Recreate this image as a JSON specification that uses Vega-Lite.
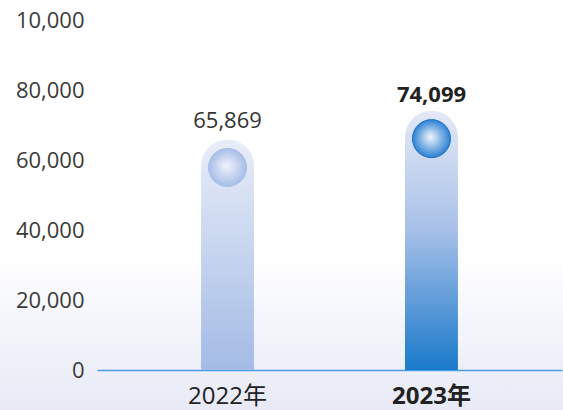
{
  "$schema": "https://vega.github.io/schema/vega-lite/v6.json",
  "width": 563,
  "height": 410,
  "autosize": {"type": "none"},
  "padding": 0,
  "background": "#ffffff",
  "config": {
    "view": {
      "stroke": null,
      "fill": {"gradient": "linear", "x1": 0, "y1": 0, "x2": 0, "y2": 1,
        "stops": [{"offset": 0, "color": "#ffffff"}, {"offset": 0.62, "color": "#ffffff"}, {"offset": 1, "color": "#e7eaf6"}]}
    },
    "font": "Open Sans"
  },
  "data": {"values": [
    {"year": "2022年", "value": 65869},
    {"year": "2023年", "value": 74099}
  ]},
  "encoding": {
    "x": {
      "field": "year", "type": "nominal", "sort": null,
      "scale": {"type": "band", "range": [97, 562], "paddingInner": 0, "paddingOuter": 0.14},
      "axis": {
        "title": null, "orient": "bottom", "offset": -40, "labelAngle": 0,
        "domain": true, "domainColor": "#4a9de0", "domainWidth": 1.5, "ticks": false,
        "labelFont": "Open Sans, Noto Sans CJK JP", "labelFontSize": 24, "labelColor": "#222222",
        "labelPadding": 14, "labelBaseline": "top",
        "labelFontWeight": {"expr": "datum.value == '2023年' ? 'bold' : 'normal'"}
      }
    },
    "y": {
      "field": "value", "type": "quantitative",
      "scale": {"domain": [0, 100000], "range": [370, 20], "zero": false, "nice": false},
      "axis": {
        "title": null, "offset": -98, "domain": false, "ticks": false, "grid": false,
        "values": [0, 20000, 40000, 60000, 80000, 100000],
        "labelExpr": "datum.value == 100000 ? '10,000' : format(datum.value, ',')",
        "labelFontSize": 22, "labelColor": "#3a3a3a", "labelPadding": 14
      }
    }
  },
  "layer": [
    {
      "transform": [{"filter": "datum.year == '2022年'"}],
      "mark": {"type": "bar", "size": 53, "cornerRadiusTopLeft": 26.5, "cornerRadiusTopRight": 26.5,
        "fill": {"gradient": "linear", "x1": 0, "y1": 0, "x2": 0, "y2": 1,
          "stops": [{"offset": 0, "color": "#e8edf8"}, {"offset": 1, "color": "#a3bbe5"}]}}
    },
    {
      "transform": [{"filter": "datum.year == '2023年'"}],
      "mark": {"type": "bar", "size": 53, "cornerRadiusTopLeft": 26.5, "cornerRadiusTopRight": 26.5,
        "fill": {"gradient": "linear", "x1": 0, "y1": 0, "x2": 0, "y2": 1,
          "stops": [{"offset": 0, "color": "#e4e9f6"}, {"offset": 0.45, "color": "#a9c1e8"}, {"offset": 1, "color": "#1a7acb"}]}}
    },
    {
      "transform": [{"filter": "datum.year == '2022年'"}],
      "mark": {"type": "point", "shape": "circle", "filled": true, "size": 1450, "yOffset": 28, "opacity": 1,
        "stroke": "#a9bfe7", "strokeWidth": 1,
        "fill": {"gradient": "radial", "x1": 0.47, "y1": 0.45, "r1": 0, "x2": 0.5, "y2": 0.5, "r2": 0.5,
          "stops": [{"offset": 0, "color": "#f1f4fc"}, {"offset": 1, "color": "#a6bde7"}]}}
    },
    {
      "transform": [{"filter": "datum.year == '2023年'"}],
      "mark": {"type": "point", "shape": "circle", "filled": true, "size": 1450, "yOffset": 28, "opacity": 1,
        "stroke": "#1c74c8", "strokeWidth": 1,
        "fill": {"gradient": "radial", "x1": 0.47, "y1": 0.45, "r1": 0, "x2": 0.5, "y2": 0.5, "r2": 0.5,
          "stops": [{"offset": 0, "color": "#f1f5fc"}, {"offset": 1, "color": "#2b80d2"}]}}
    },
    {
      "transform": [{"filter": "datum.year == '2022年'"}],
      "mark": {"type": "text", "baseline": "alphabetic", "dy": -11, "fontSize": 22, "color": "#333333", "font": "Open Sans"},
      "encoding": {"text": {"field": "value", "format": ","}}
    },
    {
      "transform": [{"filter": "datum.year == '2023年'"}],
      "mark": {"type": "text", "baseline": "alphabetic", "dy": -9, "fontSize": 22, "fontWeight": "bold", "color": "#222222", "font": "Open Sans"},
      "encoding": {"text": {"field": "value", "format": ","}}
    }
  ]
}
